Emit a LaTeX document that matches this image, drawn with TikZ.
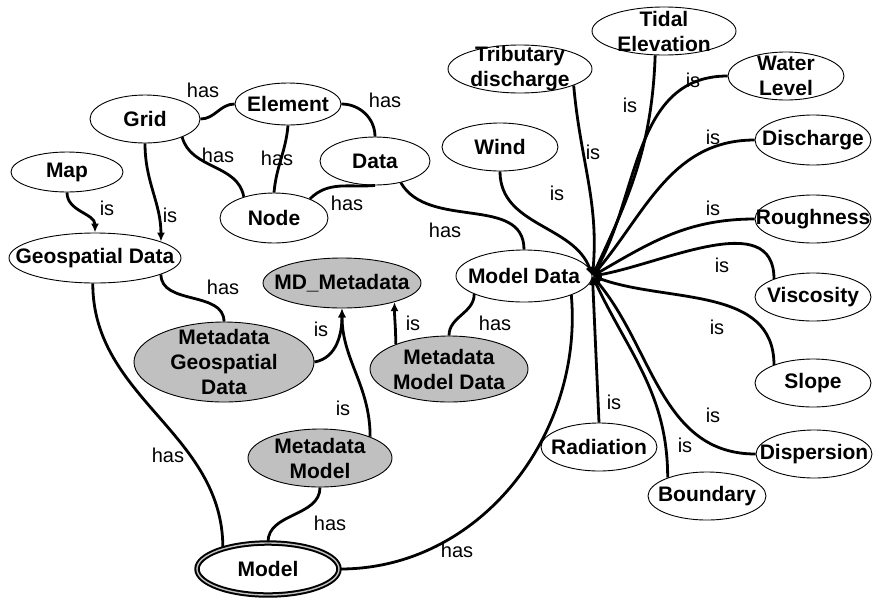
\documentclass[tikz,border=0pt]{standalone}
\usepackage{fontspec}
\setmainfont{Liberation Sans}
\usetikzlibrary{shapes.geometric,arrows.meta}
\definecolor{metagray}{RGB}{192,192,192}
\tikzset{
  ent/.style={ellipse,draw,line width=0.9pt,fill=white,inner sep=0pt},
  meta/.style={ent,fill=metagray},
  etxt/.style={font=\bfseries\fontsize{21}{25}\selectfont,align=center,inner sep=0pt},
  lbl/.style={font=\fontsize{20}{24}\selectfont,inner sep=0pt},
  hasln/.style={line width=2.8pt},
  isln/.style={hasln,-{Latex[length=9pt,width=8pt]}}
}
\begin{document}
\begin{tikzpicture}[x=1pt,y=-1pt]
  \useasboundingbox (0,0) rectangle (874,598);
  % entities
  \node[ent,minimum width=112pt,minimum height=40pt,label={[etxt]center:Map}] (map) at (67,172) {};
  \node[ent,minimum width=110pt,minimum height=48pt,label={[etxt]center:Grid}] (grid) at (145,119) {};
  \node[ent,minimum width=106pt,minimum height=42pt,label={[etxt]center:Element}] (elem) at (288,104) {};
  \node[ent,minimum width=110pt,minimum height=48pt,label={[etxt]center:Data}] (data) at (375,161) {};
  \node[ent,minimum width=108pt,minimum height=50pt,label={[etxt]center:Node}] (gnode) at (274,218) {};
  \node[ent,minimum width=172pt,minimum height=50pt,label={[etxt]center:Geospatial Data}] (geo) at (95,258) {};
  \node[ent,minimum width=136pt,minimum height=52pt,label={[etxt]center:Model Data}] (mdata) at (524,276) {};
  \node[ent,minimum width=142pt,minimum height=52pt,double=metagray,double distance=1.4pt,line width=2pt,label={[etxt]center:Model}] (model) at (268,569) {};
  % metadata
  \node[meta,minimum width=158pt,minimum height=50pt,label={[etxt]center:MD\_Metadata}] (mdmeta) at (342,283) {};
  \node[meta,minimum width=180pt,minimum height=80pt,label={[etxt]center:{Metadata\\Geospatial\\Data}}] (mgeo) at (224,362) {};
  \node[meta,minimum width=158pt,minimum height=66pt,label={[etxt]center:{Metadata\\Model Data}}] (mmd) at (449,369) {};
  \node[meta,minimum width=144pt,minimum height=58pt,label={[etxt]center:{Metadata\\Model}}] (mmodel) at (320,458) {};
  % model data kinds
  \node[ent,minimum width=144pt,minimum height=48pt,label={[etxt]center:{Tributary\\discharge}}] (trib) at (520,69) {};
  \node[ent,minimum width=144pt,minimum height=48pt,label={[etxt]center:{Tidal\\Elevation}}] (tidal) at (664,31) {};
  \node[ent,minimum width=116pt,minimum height=48pt,label={[etxt]center:{Water\\Level}}] (water) at (786,76) {};
  \node[ent,minimum width=116pt,minimum height=50pt,label={[etxt]center:Discharge}] (disch) at (813,140) {};
  \node[ent,minimum width=116pt,minimum height=48pt,label={[etxt]center:Wind}] (wind) at (500,147) {};
  \node[ent,minimum width=116pt,minimum height=48pt,label={[etxt]center:Roughness}] (rough) at (813,219) {};
  \node[ent,minimum width=116pt,minimum height=48pt,label={[etxt]center:Viscosity}] (visc) at (813,297) {};
  \node[ent,minimum width=116pt,minimum height=48pt,label={[etxt]center:Slope}] (slope) at (813,383) {};
  \node[ent,minimum width=116pt,minimum height=48pt,label={[etxt]center:Dispersion}] (disp) at (814,454) {};
  \node[ent,minimum width=118pt,minimum height=48pt,label={[etxt]center:Boundary}] (bound) at (707,496) {};
  \node[ent,minimum width=116pt,minimum height=48pt,label={[etxt]center:Radiation}] (rad) at (599,447) {};
  % geospatial part
  \draw[isln] (map.south) to[out=-90,in=90] (geo.north) node[lbl] at (107,208) {is};
  \draw[isln] (grid.south) to[out=-90,in=90] (geo.14) node[lbl] at (170,215) {is};
  \draw[hasln] (grid.east) to[out=0,in=180] (elem.west) node[lbl] at (203,90) {has};
  \draw[hasln] (grid.-26) to[out=-75,in=100] (gnode.145) node[lbl] at (218,155) {has};
  \draw[hasln] (elem.south) to[out=-95,in=85] (gnode.north) node[lbl] at (277,158) {has};
  \draw[hasln] (elem.east) to[out=0,in=90] (data.north) node[lbl] at (385,100) {has};
  \draw[hasln] (gnode.28) to[out=45,in=185] (data.south) node[lbl] at (347,203) {has};
  \draw[hasln] (data.-40) to[out=-60,in=90] (mdata.north) node[lbl] at (445,230) {has};
  % metadata part
  \draw[hasln] (geo.-14) to[out=-90,in=90] (mgeo.north) node[lbl] at (223,287) {has};
  \draw[isln] (mgeo.east) to[out=10,in=-90] (mdmeta.south) node[lbl] at (321,329) {is};
  \draw[isln] (mmodel.23) to[out=90,in=-90] (mdmeta.south) node[lbl] at (343,408) {is};
  \draw[isln] (mmd.155) to[out=90,in=-90] (mdmeta.-20) node[lbl] at (413,323) {is};
  \draw[hasln] (mmd.north) to[out=90,in=-90] (mdata.-160) node[lbl] at (495,323) {has};
  \draw[hasln] (geo.-95) to[out=-90,in=90] (model.155) node[lbl] at (168,455) {has};
  \draw[hasln] (mmodel.south) to[out=-90,in=90] (model.north) node[lbl] at (330,523) {has};
  \draw[hasln] (model.east) to[out=0,in=-85] (mdata.-22) node[lbl] at (457,550) {has};
  % kinds of model data
  \draw[isln] (trib.-17) to[out=-85,in=85] (mdata.east) node[lbl] at (593,152) {is};
  \draw[isln] (tidal.-110) to[out=-92,in=65] (mdata.east) node[lbl] at (630,105) {is};
  \draw[isln] (water.west) to[out=180,in=60] (mdata.east) node[lbl] at (693,80) {is};
  \draw[isln] (disch.west) to[out=180,in=50] (mdata.east) node[lbl] at (713,137) {is};
  \draw[isln] (wind.south) to[out=-90,in=110] (mdata.east) node[lbl] at (557,193) {is};
  \draw[isln] (rough.west) to[out=180,in=30] (mdata.east) node[lbl] at (713,208) {is};
  \draw[isln] (visc.155) to[out=90,in=10] (mdata.east) node[lbl] at (722,265) {is};
  \draw[isln] (slope.155) to[out=90,in=-20] (mdata.east) node[lbl] at (717,327) {is};
  \draw[isln] (disp.west) to[out=180,in=-50] (mdata.east) node[lbl] at (713,415) {is};
  \draw[isln] (bound.155) to[out=90,in=-65] (mdata.east) node[lbl] at (685,445) {is};
  \draw[isln] (rad.north) -- (mdata.east) node[lbl] at (614,402) {is};
\end{tikzpicture}
\end{document}
